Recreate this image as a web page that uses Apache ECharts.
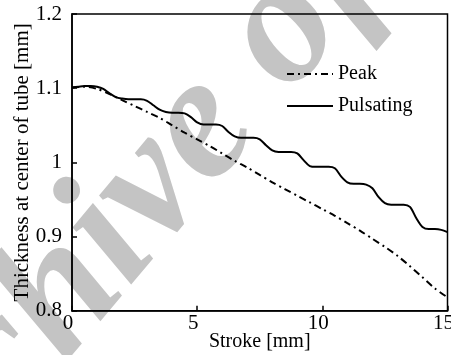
<!DOCTYPE html>
<html>
<head>
<meta charset="utf-8">
<script src="https://cdn.jsdelivr.net/npm/echarts@6/dist/echarts.min.js"></script>
<style>html,body{margin:0;padding:0;background:#fff}#c{width:451px;height:355px}</style>
</head>
<body>
<div id="c"></div>
<script>
// ---- data ----
var strokePulsating = [0,0.25,0.5,0.75,1,1.25,1.5,1.75,2,2.25,2.5,2.75,3,3.25,3.5,3.75,4,4.25,4.5,4.75,5,5.25,5.5,5.75,6,6.25,6.5,6.75,7,7.25,7.5,7.75,8,8.25,8.5,8.75,9,9.25,9.5,9.75,10,10.25,10.5,10.75,11,11.25,11.5,11.75,12,12.25,12.5,12.75,13,13.25,13.5,13.75,14,14.25,14.5,14.75,15];
var thicknessPulsating = [1.101,1.102,1.103,1.103,1.102,1.099,1.093,1.088,1.086,1.085,1.085,1.085,1.083,1.077,1.071,1.068,1.067,1.067,1.066,1.061,1.054,1.051,1.051,1.051,1.049,1.041,1.035,1.033,1.033,1.033,1.031,1.023,1.016,1.014,1.014,1.014,1.012,1.003,0.995,0.994,0.994,0.994,0.992,0.981,0.973,0.971,0.971,0.970,0.965,0.953,0.945,0.943,0.943,0.943,0.940,0.925,0.913,0.910,0.910,0.909,0.906];
var strokePeak = [0,0.5,1,1.5,2,2.5,3,3.5,4,4.5,5,5.5,6,6.5,7,7.5,8,8.5,9,9.5,10,10.5,11,11.5,12,12.5,13,13.5,14,14.5,15];
var thicknessPeak = [1.101,1.102,1.099,1.092,1.084,1.076,1.068,1.060,1.050,1.040,1.031,1.022,1.012,1.002,0.993,0.983,0.973,0.964,0.955,0.946,0.937,0.928,0.918,0.908,0.897,0.886,0.874,0.860,0.845,0.830,0.818];
var xTickValues = [0,5,10,15];
var xTickLabels = ['0','5','10','15'];
var yTickValues = [0.8,0.9,1.0,1.1,1.2];
var yTickLabels = ['0.8','0.9','1','1.1','1.2'];
var seriesNames = ['Peak','Pulsating'];
var xTitle = 'Stroke [mm]';
var yTitle = 'Thickness at center of tube [mm]';
var watermark = 'Archive of SID';

function zip(a,b){var r=[];for(var i=0;i<a.length;i++)r.push([a[i],b[i]]);return r;}
function lab(vals,labs){return function(v){for(var i=0;i<vals.length;i++){if(Math.abs(vals[i]-v)<1e-6)return labs[i];}return '';};}

var FONT = '"Liberation Serif","Times New Roman",serif';
var chart = echarts.init(document.getElementById('c'), null, {renderer:'canvas'});
var ang = 50*Math.PI/180;
chart.setOption({
  animation:false,
  backgroundColor:'#fff',
  graphic:[{
    type:'text', z:-10, silent:true,
    x:-74, y:596, rotation:ang,
    style:{text:watermark, fill:'#c4c4c4', font:'italic bold 178px '+FONT, textAlign:'left', textVerticalAlign:'bottom'}
  }],
  grid:{left:72, top:14, right:3.5, bottom:44.3, containLabel:false, outerBoundsMode:'none', show:true, borderColor:'#000', borderWidth:1.5, backgroundColor:'transparent'},
  legend:{
    show:true, orient:'vertical', left:281, top:59, itemWidth:46, itemHeight:14, itemGap:12,
    data:seriesNames,
    itemStyle:{opacity:0},
    textStyle:{fontFamily:FONT, fontSize:20, color:'#000'}
  },
  xAxis:{
    type:'value', min:0, max:15, interval:5,
    name:xTitle, nameLocation:'middle', nameGap:21, nameMoveOverlap:false,
    nameTextStyle:{fontFamily:FONT, fontSize:20, color:'#000'},
    axisLine:{show:true, onZero:false, lineStyle:{color:'#000', width:1.5}},
    axisTick:{show:true, inside:true, length:5, lineStyle:{color:'#000', width:1.5}},
    splitLine:{show:false},
    axisLabel:{fontFamily:FONT, fontSize:21, color:'#000', margin:2, padding:[0,8,0,0], formatter:lab(xTickValues,xTickLabels), showMaxLabel:true, showMinLabel:true}
  },
  yAxis:{
    type:'value', min:0.8, max:1.2, interval:0.1,
    name:yTitle, nameLocation:'middle', nameGap:39, nameRotate:90, nameMoveOverlap:false,
    nameTextStyle:{fontFamily:FONT, fontSize:21, color:'#000'},
    axisLine:{show:true, onZero:false, lineStyle:{color:'#000', width:1.5}},
    axisTick:{show:true, inside:true, length:5, lineStyle:{color:'#000', width:1.5}},
    splitLine:{show:false},
    axisLabel:{fontFamily:FONT, fontSize:21, color:'#000', margin:10, formatter:lab(yTickValues,yTickLabels)}
  },
  series:[
    {name:seriesNames[0], type:'line', data:zip(strokePeak,thicknessPeak), smooth:0.3, symbol:'none', z:3,
     lineStyle:{color:'#000', width:2, type:[7,4,2,4]}, itemStyle:{color:'#000'}},
    {name:seriesNames[1], type:'line', data:zip(strokePulsating,thicknessPulsating), smooth:0.3, symbol:'none', z:3,
     lineStyle:{color:'#000', width:2, type:'solid'}, itemStyle:{color:'#000'}}
  ]
});
</script>
</body>
</html>
